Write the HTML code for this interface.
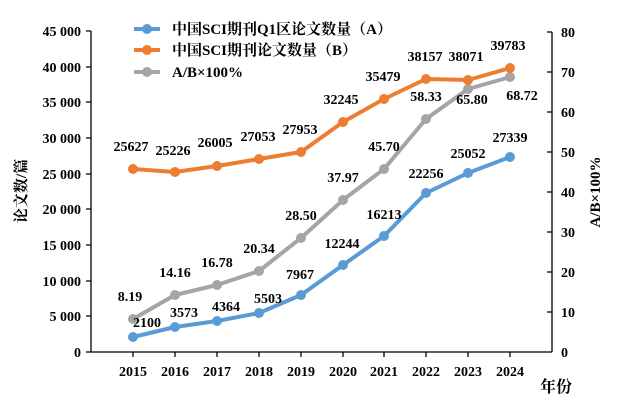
<!DOCTYPE html>
<html><head><meta charset="utf-8"><style>body{margin:0;background:#fff}svg{display:block}text{font-family:"Liberation Serif","Noto Serif CJK SC",serif;font-weight:bold;fill:#000}</style></head><body>
<svg width="637" height="419" viewBox="0 0 637 419">
<g stroke="#000" stroke-width="1.3" fill="none">
<line x1="91" y1="31" x2="91" y2="352"/><line x1="91" y1="352" x2="552" y2="352"/><line x1="552" y1="32" x2="552" y2="352"/>
<path d="M86 31H91M86 67H91M86 102H91M86 138H91M86 174H91M86 209H91M86 245H91M86 281H91M86 316H91M86 352H91"/>
<path d="M547 32H552M547 72H552M547 112H552M547 152H552M547 192H552M547 232H552M547 272H552M547 312H552"/>
<path d="M133 352v5M175 352v5M217 352v5M259 352v5M301 352v5M343 352v5M384 352v5M426 352v5M468 352v5M510 352v5"/>
</g>
<g font-size="14" text-anchor="end">
<text x="81" y="36">45 000</text><text x="81" y="72">40 000</text><text x="81" y="107">35 000</text><text x="81" y="143">30 000</text><text x="81" y="179">25 000</text><text x="81" y="214">20 000</text><text x="81" y="250">15 000</text><text x="81" y="286">10 000</text><text x="81" y="321">5 000</text><text x="81" y="357">0</text>
</g>
<g font-size="14">
<text x="561" y="37">80</text><text x="561" y="77">70</text><text x="561" y="117">60</text><text x="561" y="157">50</text><text x="561" y="197">40</text><text x="561" y="237">30</text><text x="561" y="277">20</text><text x="561" y="317">10</text><text x="561" y="357">0</text>
</g>
<g font-size="14" text-anchor="middle">
<text x="133" y="376">2015</text><text x="175" y="376">2016</text><text x="217" y="376">2017</text><text x="259" y="376">2018</text><text x="301" y="376">2019</text><text x="343" y="376">2020</text><text x="384" y="376">2021</text><text x="426" y="376">2022</text><text x="468" y="376">2023</text><text x="510" y="376">2024</text>
</g>
<text x="556" y="392" font-size="16" text-anchor="middle">年份</text>
<text transform="translate(26 191) rotate(-90)" font-size="15" text-anchor="middle">论文数/篇</text>
<text transform="translate(600 192) rotate(-90)" font-size="15" text-anchor="middle">A/B×100%</text>
<g stroke-width="4" fill="none" stroke-linejoin="round">
<polyline stroke="#a5a5a5" points="133,319 175,295 217,285 259,271 301,238 343,200 384,169 426,119 468,89 510,77"/>
<polyline stroke="#ed7d31" points="133,169 175,172 217,166 259,159 301,152 343,122 384,99 426,79 468,80 510,68"/>
<polyline stroke="#5b9bd5" points="133,337 175,327 217,321 259,313 301,295 343,265 384,236 426,193 468,173 510,157"/>
</g>
<g fill="#a5a5a5"><circle cx="133" cy="319" r="5"/><circle cx="175" cy="295" r="5"/><circle cx="217" cy="285" r="5"/><circle cx="259" cy="271" r="5"/><circle cx="301" cy="238" r="5"/><circle cx="343" cy="200" r="5"/><circle cx="384" cy="169" r="5"/><circle cx="426" cy="119" r="5"/><circle cx="468" cy="89" r="5"/><circle cx="510" cy="77" r="5"/></g>
<g fill="#ed7d31"><circle cx="133" cy="169" r="5"/><circle cx="175" cy="172" r="5"/><circle cx="217" cy="166" r="5"/><circle cx="259" cy="159" r="5"/><circle cx="301" cy="152" r="5"/><circle cx="343" cy="122" r="5"/><circle cx="384" cy="99" r="5"/><circle cx="426" cy="79" r="5"/><circle cx="468" cy="80" r="5"/><circle cx="510" cy="68" r="5"/></g>
<g fill="#5b9bd5"><circle cx="133" cy="337" r="5"/><circle cx="175" cy="327" r="5"/><circle cx="217" cy="321" r="5"/><circle cx="259" cy="313" r="5"/><circle cx="301" cy="295" r="5"/><circle cx="343" cy="265" r="5"/><circle cx="384" cy="236" r="5"/><circle cx="426" cy="193" r="5"/><circle cx="468" cy="173" r="5"/><circle cx="510" cy="157" r="5"/></g>
<g font-size="14" text-anchor="middle">
<text x="131" y="151">25627</text><text x="173" y="155">25226</text><text x="215" y="147">26005</text><text x="258" y="141">27053</text><text x="300" y="134">27953</text><text x="341" y="104">32245</text><text x="383" y="81">35479</text><text x="425" y="61">38157</text><text x="466" y="61">38071</text><text x="508" y="50">39783</text>
<text x="130" y="301">8.19</text><text x="175" y="277">14.16</text><text x="217" y="267">16.78</text><text x="259" y="253">20.34</text><text x="301" y="220">28.50</text><text x="343" y="182">37.97</text><text x="384" y="151">45.70</text><text x="426" y="101">58.33</text><text x="472" y="104">65.80</text><text x="522" y="100">68.72</text>
<text x="147" y="327">2100</text><text x="184" y="317">3573</text><text x="226" y="311">4364</text><text x="268" y="303">5503</text><text x="300" y="279">7967</text><text x="342" y="248">12244</text><text x="384" y="219">16213</text><text x="426" y="178">22256</text><text x="468" y="158">25052</text><text x="510" y="142">27339</text>
</g>
<g stroke-width="4"><line x1="134" y1="29" x2="160" y2="29" stroke="#5b9bd5"/><line x1="134" y1="50" x2="160" y2="50" stroke="#ed7d31"/><line x1="134" y1="72" x2="160" y2="72" stroke="#a5a5a5"/></g>
<circle cx="147" cy="29" r="5" fill="#5b9bd5"/><circle cx="147" cy="50" r="5" fill="#ed7d31"/><circle cx="147" cy="72" r="5" fill="#a5a5a5"/>
<g font-size="15"><text x="172" y="34">中国SCI期刊Q1区论文数量（A）</text><text x="172" y="55">中国SCI期刊论文数量（B）</text><text x="172" y="77">A/B×100%</text></g>
</svg></body></html>
